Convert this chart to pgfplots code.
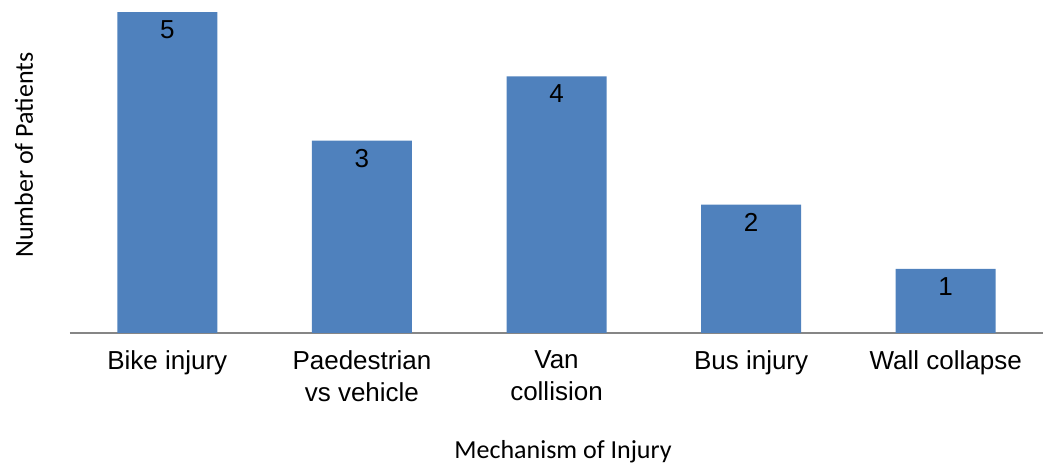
\documentclass[border=0pt]{standalone}
\usepackage{fontspec}
\setmainfont{Liberation Sans}
\newfontfamily\carlito{Carlito}
\usepackage{pgfplots}
\pgfplotsset{compat=1.18}
\definecolor{barblue}{HTML}{4F81BD}
\definecolor{axgray}{HTML}{868686}
\begin{document}
\begin{tikzpicture}
\useasboundingbox (-35pt,-65.5pt) rectangle (489.5pt,166.5pt);
\begin{axis}[
  at={(0,0)}, anchor=south west,
  scale only axis, width=486.5pt, height=166.5pt,
  xmin=-0.5, xmax=4.5, ymin=0, ymax=5.19,
  axis x line*=bottom, axis y line*=left,
  x axis line style={axgray, line width=0.7pt, -},
  y axis line style={draw=none},
  ytick=\empty,
  major tick length=0pt,
  xtick=data,
  xticklabels={Bike injury, Paedestrian\\vs vehicle, Van\\collision, Bus injury, Wall collapse},
  xticklabel style={align=center, font=\fontsize{13}{16}\selectfont, anchor=north, yshift=-5.5pt},
  /pgf/number format/assume math mode=true,
  ybar, bar width=50pt,
  nodes near coords,
  nodes near coords style={anchor=north, font=\fontsize{13}{15}\selectfont, text=black, yshift=-0.8pt},
  xlabel={Mechanism of Injury},
  ylabel={Number of Patients},
  xlabel style={at={(axis description cs:0.5067,-0.3574)}, anchor=center, font=\carlito\fontsize{13}{15}\selectfont},
  ylabel style={at={(axis description cs:-0.0473,0.5345)}, anchor=center, rotate=0, font=\carlito\fontsize{13}{15}\selectfont},
  clip=false,
]
\addplot[fill=barblue, draw=none] coordinates {(0,5) (1,3) (2,4) (3,2) (4,1)};
\end{axis}
\end{tikzpicture}
\end{document}
